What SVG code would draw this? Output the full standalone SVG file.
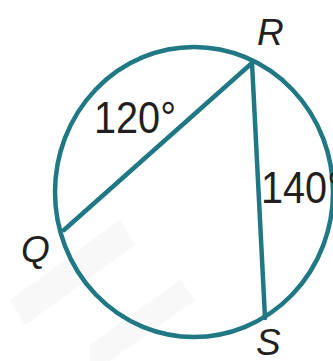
<svg xmlns="http://www.w3.org/2000/svg" width="333" height="361" viewBox="0 0 333 361">
<style>
.ln{fill:none;stroke:#1f7884;stroke-width:4.5;stroke-linecap:round}
.lb{font-family:"Liberation Sans",Arial,sans-serif;fill:#231f20}
.pt{font-style:italic;font-size:37px}
.ang{font-size:45px}
</style>
<rect width="333" height="361" fill="#ffffff"/>
<g id="watermark" fill="#f8f8f8">
<polygon points="10,300 120,220 135,245 25,325"/>
<polygon points="90,345 180,280 195,300 110,361 90,361"/>
</g>
<g id="circle"><ellipse class="ln" cx="194" cy="192" rx="139" ry="145"/></g>
<g id="connectors">
<line class="ln" x1="252" y1="63" x2="64" y2="230"/>
<line class="ln" x1="252" y1="63" x2="265" y2="318"/>
</g>
<g id="R"><text class="lb pt" x="257" y="45">R</text></g>
<g id="Q"><text class="lb pt" x="21" y="262">Q</text></g>
<g id="S"><text class="lb pt" x="256" y="355">S</text></g>
<g id="arc120"><text class="lb ang" x="94" y="133" textLength="82" lengthAdjust="spacingAndGlyphs">120°</text></g>
<g id="arc140"><text class="lb ang" x="261" y="203" textLength="82" lengthAdjust="spacingAndGlyphs">140°</text></g>
</svg>
